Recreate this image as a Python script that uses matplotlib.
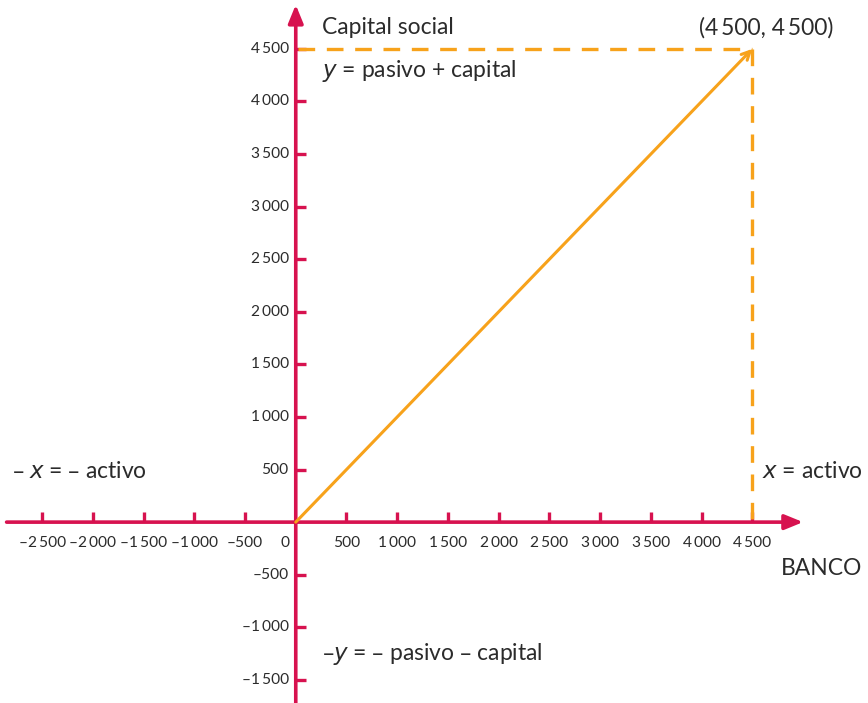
import matplotlib.pyplot as plt

plt.rcParams['font.family'] = ['Lato', 'DejaVu Sans']

# data
x_ticks = [-2500, -2000, -1500, -1000, -500, 500, 1000, 1500, 2000, 2500, 3000, 3500, 4000, 4500]
y_ticks = [-1500, -1000, -500, 500, 1000, 1500, 2000, 2500, 3000, 3500, 4000, 4500]
punto = (4500, 4500)

red = '#d7124f'
orange = '#f7a21b'
txt = '#2b2b2b'


def fmt(v):
    s = '{:,}'.format(abs(v)).replace(',', '\u2009') if abs(v) >= 1000 else str(abs(v))
    return ('\u2013' if v < 0 else '') + s


fig = plt.figure(figsize=(8.68, 7.03), dpi=100)
ax = fig.add_axes([0, 0, 1, 1])
ax.set_xlim(-2915, 5640)
ax.set_ylim(-1720, 4965)
ax.axis('off')

# axes with arrows
ax.annotate('', xy=(5000, 0), xytext=(-2850, 0),
            arrowprops=dict(arrowstyle='-|>,head_length=1.1,head_width=0.45', color=red, lw=2.6,
                            shrinkA=0, shrinkB=0))
ax.annotate('', xy=(0, 4920), xytext=(0, -1720),
            arrowprops=dict(arrowstyle='-|>,head_length=1.1,head_width=0.45', color=red, lw=2.6,
                            shrinkA=0, shrinkB=0))

# ticks
for v in x_ticks:
    ax.plot([v, v], [0, 100], color=red, lw=2.4, solid_capstyle='butt')
    ax.text(v, -135, fmt(v), ha='center', va='top', fontsize=11.2, color=txt)
ax.text(-110, -135, '0', ha='center', va='top', fontsize=11.2, color=txt)
for v in y_ticks:
    ax.plot([0, 100], [v, v], color=red, lw=2.4, solid_capstyle='butt')
    ax.text(-70, v, fmt(v), ha='right', va='center', fontsize=11.2, color=txt)

# dashed guides
ax.plot([20, punto[0]], [punto[1], punto[1]], color=orange, lw=2.4, dashes=(5, 3.5))
ax.plot([punto[0], punto[0]], [punto[1], 20], color=orange, lw=2.4, dashes=(5, 3.5))

# line from origin
ax.annotate('', xy=punto, xytext=(0, 0),
            arrowprops=dict(arrowstyle='->,head_length=0.6,head_width=0.3', color=orange, lw=2.2,
                            shrinkA=0, shrinkB=0))

# labels
fs = 16.5
ax.text(255, 4705, 'Capital social', ha='left', va='center', fontsize=fs, color=txt)
ax.text(255, 4290, '$\\mathit{y}$ = pasivo + capital', ha='left', va='center', fontsize=fs, color=txt)
ax.text(4640, 4705, '(4\u2009500, 4\u2009500)', ha='center', va='center', fontsize=fs, color=txt)
ax.text(-2800, 480, '\u2013 $\\mathit{x}$ = \u2013 activo', ha='left', va='center', fontsize=fs, color=txt)
ax.text(5590, 480, '$\\mathit{x}$ = activo', ha='right', va='center', fontsize=fs, color=txt)
ax.text(4780, -445, 'BANCO', ha='left', va='center', fontsize=fs, color=txt)
ax.text(255, -1255, '\u2013$\\mathit{y}$ = \u2013 pasivo \u2013 capital', ha='left', va='center', fontsize=fs, color=txt)

fig.savefig('out.png', dpi=100)
